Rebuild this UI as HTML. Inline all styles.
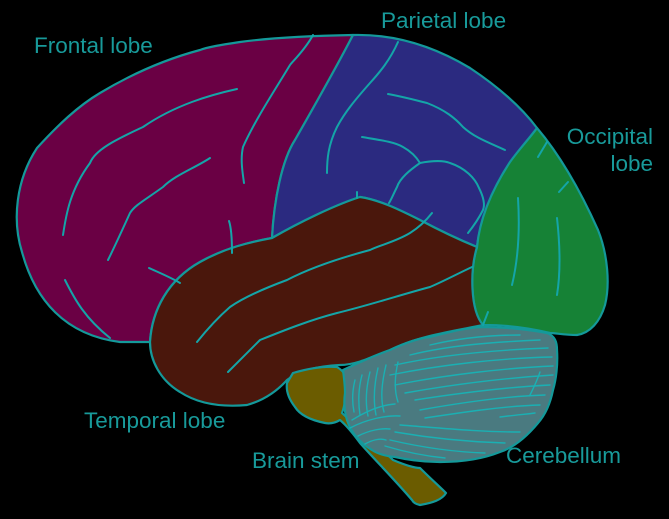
<!DOCTYPE html>
<html><head><meta charset="utf-8"><style>
html,body{margin:0;padding:0;background:#000;}
svg{display:block}
text{font-family:"Liberation Sans",Arial,sans-serif;font-size:22.5px;fill:#189a9a}
</style></head><body>
<svg width="669" height="519" viewBox="0 0 669 519" xmlns="http://www.w3.org/2000/svg">
<rect width="669" height="519" fill="#000"/>
<g stroke="#14999a" stroke-width="2.2" stroke-linejoin="round" stroke-linecap="round">
<path fill="#6a0044" d="M353,35 C300,36 262,39 240,42 C220,45 208,47 200,50 C170,58 135,72 100,93 C78,106 58,125 37,148 C16,180 12,220 22,252 C35,300 65,335 120,342 L150,342 C152,310 168,280 200,262 C225,248 250,242 272,238 C274,200 282,160 295,140 C315,105 335,70 353,35 Z"/>
<path fill="#2b2a80" d="M353,35 C390,34 430,44 470,68 C500,88 522,108 537,128 C520,150 505,165 495,190 C485,210 479,230 477,247 C455,238 435,228 420,220 C400,210 380,200 360,197 C335,205 300,222 272,238 C274,200 282,160 295,140 C315,105 335,70 353,35 Z"/>
<path fill="#168236" d="M537,128 C560,155 580,190 598,230 C608,255 610,285 605,305 C600,322 590,333 577,335 C565,335 555,333 550,333 C530,328 505,325 483,325 C470,310 470,270 477,247 C480,215 495,185 510,162 C520,148 530,138 537,128 Z"/>
<path fill="#4a170c" d="M150,342 C152,310 168,280 200,262 C225,248 250,242 272,238 C300,222 335,205 360,197 C380,200 400,210 420,220 C435,228 455,238 477,247 C470,270 470,310 483,325 C460,330 420,335 390,350 C370,358 355,365 340,365 C320,366 300,370 287,380 C278,390 265,400 247,405 C225,407 200,405 180,392 C160,380 150,360 150,342 Z"/>
<path fill="#6b5c00" d="M293,373 C310,368 325,366 337,367 C345,372 348,378 347,385 C346,395 345,405 342,413 L357,427 C370,440 385,452 393,460 C405,465 415,468 420,468 C430,478 440,487 446,493 C442,500 432,503 420,505 C415,504 413,502 412,500 C395,480 375,460 360,443 C352,432 346,425 340,420 C335,423 330,424 325,423 C310,420 300,415 295,407 C288,398 286,390 287,383 Z"/>
<path fill="#4a7a80" d="M343,370 C360,362 375,355 390,350 C405,343 420,338 430,337 C450,332 465,328 480,327 C500,327 520,328 547,333 C555,336 557,342 557,350 C558,365 556,380 553,390 C550,405 545,415 538,423 C528,435 515,447 500,452 C485,458 465,462 440,462 C420,462 405,459 395,457 C385,456 378,454 372,450 C362,444 352,435 347,420 C344,410 344,400 345,393 C345,385 344,378 343,370 Z"/>
</g>
<g fill="none" stroke="#14a5a8" stroke-width="2" stroke-linecap="round">
<path d="M313,35 C305,50 292,62 290,65 C275,90 255,120 243,147 C240,160 243,175 244,183"/>
<path d="M237,89 C210,95 175,105 143,127 C115,140 95,150 90,163 C70,190 66,215 63,235"/>
<path d="M210,158 C195,168 175,175 163,187 C145,200 135,205 130,213 C120,235 113,250 108,260"/>
<path d="M229,221 C232,230 232,245 232,253"/>
<path d="M149,268 C160,273 172,278 180,283"/>
<path d="M65,280 C75,300 85,318 110,338"/>
<path d="M398,42 C390,60 380,72 370,83 C355,100 345,112 337,127 C328,145 327,160 327,173"/>
<path d="M388,94 C400,96 415,100 427,103 C445,110 455,118 463,127 C475,138 490,143 505,150"/>
<path d="M362,137 C380,140 395,142 403,147 C412,152 417,158 420,163 C410,170 400,178 397,187 C393,195 391,200 389,203"/>
<path d="M420,163 C435,160 445,161 450,163 C465,168 475,178 479,188 C484,198 485,205 483,210 C478,220 472,228 468,233"/>
<path d="M357,192 L357,198"/>
<path d="M432,213 C425,222 418,228 410,233 C395,242 380,245 370,250 C340,258 310,268 287,280 C260,290 240,300 230,307 C215,320 205,332 197,342"/>
<path d="M472,267 C455,275 442,282 430,287 C400,295 370,305 337,313 C310,320 285,330 260,340 C248,352 238,362 228,372"/>
<path d="M518,198 C520,230 518,260 512,285"/>
<path d="M557,218 C560,245 561,270 557,295"/>
<path d="M547,142 L538,157"/>
<path d="M568,182 L559,192"/>
<path d="M488,312 L483,325"/>
</g>
<g fill="none" stroke="#1ab0b3" stroke-width="1.4" stroke-linecap="round">
<path d="M430,345 C460,338 490,335 520,335"/>
<path d="M410,355 C450,345 495,342 540,340"/>
<path d="M395,365 C440,355 495,350 548,348"/>
<path d="M390,375 C440,365 500,358 552,357"/>
<path d="M395,385 C445,375 505,368 553,366"/>
<path d="M405,393 C450,385 505,378 553,375"/>
<path d="M415,400 C460,393 510,387 550,385"/>
<path d="M420,410 C465,402 510,396 545,395"/>
<path d="M425,418 C465,412 505,406 540,405"/>
<path d="M500,417 C515,415 528,414 535,413"/>
<path d="M400,425 C440,428 480,432 520,432"/>
<path d="M395,432 C430,438 470,442 505,443"/>
<path d="M390,440 C420,447 455,452 485,453"/>
<path d="M385,446 C405,452 425,456 445,458"/>
<path d="M355,380 C352,392 352,402 354,412"/>
<path d="M362,375 C358,390 358,402 360,415"/>
<path d="M370,372 C366,388 365,402 368,416"/>
<path d="M378,368 C374,385 373,400 376,415"/>
<path d="M386,365 C382,382 380,398 384,412"/>
<path d="M352,420 C365,412 380,405 395,404"/>
<path d="M350,428 C365,420 385,415 400,416"/>
<path d="M358,436 C370,430 382,428 390,429"/>
<path d="M365,444 C372,440 380,438 386,440"/>
<path d="M398,362 C395,375 394,390 398,402"/>
<path d="M530,395 C535,385 538,378 540,372"/>
</g>
<text x="34" y="53">Frontal lobe</text>
<text x="381" y="28">Parietal lobe</text>
<text x="653" y="144" text-anchor="end">Occipital</text>
<text x="653" y="171" text-anchor="end">lobe</text>
<text x="84" y="428">Temporal lobe</text>
<text x="252" y="468">Brain stem</text>
<text x="506" y="463">Cerebellum</text>
</svg>
</body></html>
